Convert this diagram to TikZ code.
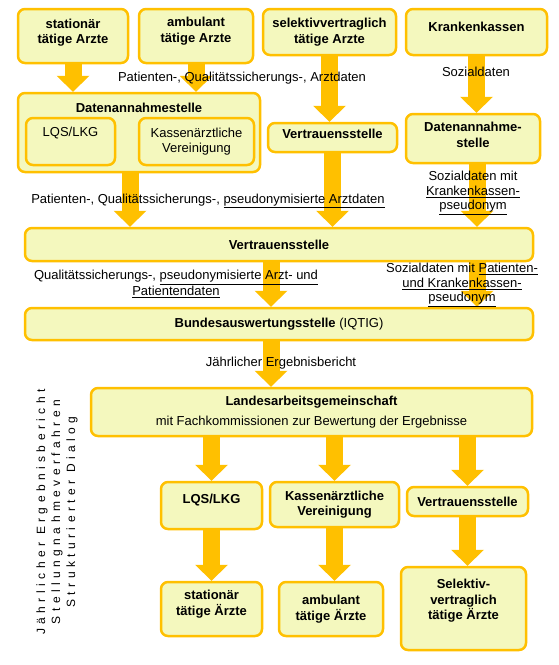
\documentclass[tikz,border=0pt]{standalone}
\usepackage{fontspec}
\setmainfont{Liberation Sans}
\newfontfamily\spacedfont[LetterSpace=37]{Liberation Sans}
\usetikzlibrary{arrows.meta,backgrounds}
\definecolor{boxfill}{RGB}{244,248,190}
\definecolor{gold}{RGB}{255,192,0}
\newcommand\nfont{\fontsize{13}{15.5}\selectfont}
\newcommand\bfont{\fontsize{13}{15.5}\selectfont\bfseries}
\tikzset{
  box/.style={draw=gold, fill=boxfill, line width=2.5pt, rounded corners=7pt,
    inner sep=0pt, align=center, font=\bfont},
  txt/.style={inner sep=0pt, align=center, font=\nfont},
  btxt/.style={inner sep=0pt, align=center, font=\bfont},
  flow/.style={draw=gold, line width=17pt,
    -{Triangle[width=33pt,length=16pt,line width=0pt]}},
}
\begin{document}
\begin{tikzpicture}[x=1pt,y=-1pt]
\useasboundingbox (0,0) rectangle (559,665);

% top row
\node[box, minimum width=110pt, minimum height=54pt] (stat1) at (73,36) {};
\node[btxt] (stat1T) at (73,32.5) {stationär\\tätige Arzte};
\node[box, minimum width=114pt, minimum height=54pt] (amb1) at (196,36) {};
\node[btxt] (amb1T) at (196,31) {ambulant\\tätige Arzte};
\node[box, minimum width=133pt, minimum height=46pt] (sel1) at (329.5,32) {selektivvertraglich\\tätige Arzte};
\node[box, minimum width=141pt, minimum height=46pt] (kk) at (476.5,32) {};
\node[btxt] (kkT) at (476.5,27) {Krankenkassen};

% second row
\node[box, minimum width=242pt, minimum height=79pt] (dan) at (139,132.5) {};
\node[btxt] (danT) at (139,108) {Datenannahmestelle};
\node[box, minimum width=89pt, minimum height=47pt] (lqs1) at (70.5,141.5) {};
\node[txt] (lqs1T) at (70.5,133) {LQS/LKG};
\node[box, font=\nfont, minimum width=115pt, minimum height=47pt] (kv1) at (196.5,141.5) {Kassenärztliche\\Vereinigung};
\node[box, minimum width=129pt, minimum height=29pt] (vsS) at (332.5,137.5) {};
\node[btxt] (vsST) at (332.5,134) {Vertrauensstelle};
\node[box, minimum width=134pt, minimum height=49pt] (das) at (473,138.5) {};
\node[btxt] (dasT) at (473,135) {Datenannahme-\\stelle};

% main rows
\node[box, minimum width=508pt, minimum height=33pt] (vs) at (279,244.5) {Vertrauensstelle};
\node[box, minimum width=508pt, minimum height=32pt] (bund) at (279,324) {Bundesauswertungsstelle {\mdseries (IQTIG)}};
\node[box, minimum width=441pt, minimum height=48pt] (lag) at (311.5,412) {Landesarbeitsgemeinschaft\\[4.5pt]{\mdseries mit Fachkommissionen zur Bewertung der Ergebnisse}};

% lower rows
\node[box, minimum width=101pt, minimum height=47pt] (lqs2) at (211.5,505.5) {};
\node[btxt] (lqs2T) at (211.5,500) {LQS/LKG};
\node[box, minimum width=129pt, minimum height=45pt] (kv2) at (334.5,504.5) {Kassenärztliche\\Vereinigung};
\node[box, minimum width=121pt, minimum height=29pt] (vs2) at (467.5,501.5) {Vertrauensstelle};
\node[box, minimum width=101pt, minimum height=54pt] (stat2) at (211.5,609) {};
\node[btxt] (stat2T) at (211.5,604) {stationär\\tätige Ärzte};
\node[box, minimum width=104pt, minimum height=54pt] (amb2) at (331,609) {ambulant\\tätige Ärzte};
\node[box, minimum width=125pt, minimum height=83pt] (sel2) at (463.5,608.5) {};
\node[btxt] (sel2T) at (463.5,601) {Selektiv-\\vertraglich\\tätige Ärzte};

% arrow columns
\coordinate (c1) at (130,0);
\coordinate (c2) at (271,0);
\coordinate (c3) at (477,0);

\begin{scope}[on background layer]
\fill[white] (0,0) rectangle (559,665);
\draw[flow] (stat1.south) -- (dan.north -| stat1.south);
\draw[flow] (amb1.south) -- (dan.north -| amb1.south);
\draw[flow] (sel1.south) -- (vsS.north -| sel1.south);
\draw[flow] (kk.south) -- (das.north -| kk.south);
\draw[flow] (dan.south -| c1) -- (vs.north -| c1);
\draw[flow] (vsS.south) -- (vs.north -| vsS.south);
\draw[flow] (das.south -| c3) -- (vs.north -| c3);
\draw[flow] (vs.south -| c2) -- (bund.north -| c2);
\draw[flow] (vs.south -| c3) -- (bund.north -| c3);
\draw[flow] (bund.south -| c2) -- (lag.north -| c2);
\draw[flow] (lag.south -| lqs2.north) -- (lqs2.north);
\draw[flow] (lag.south -| kv2.north) -- (kv2.north);
\draw[flow] (lag.south -| vs2.north) -- (vs2.north);
\draw[flow] (lqs2.south) -- (stat2.north -| lqs2.south);
\draw[flow] (kv2.south) -- (amb2.north -| kv2.south);
\draw[flow] (vs2.south) -- (sel2.north -| vs2.south);
\end{scope}

% labels
\node[txt] (l1) at (242,78) {Patienten-, Qualitätssicherungs-, Arztdaten};
\node[txt] (l2) at (476,72) {Sozialdaten};
\node[txt, font=\fontsize{13}{14.5}\selectfont] (l3) at (473,193) {Sozialdaten mit\\\underline{Krankenkassen-}\\\underline{pseudonym}};
\node[txt] (l4) at (208,201) {Patienten-, Qualitätssicherungs-, \underline{pseudonymisierte Arztdaten}};
\node[txt] (l5) at (176,284) {Qualitätssicherungs-, \underline{pseudonymisierte Arzt- und}\\\underline{Patientendaten}};
\node[txt, font=\fontsize{13}{14.5}\selectfont] (l6) at (462,285) {Sozialdaten mit \underline{Patienten-}\\\underline{und Krankenkassen-}\\\underline{pseudonym}};
\node[txt] (l7) at (281,363) {Jährlicher Ergebnisbericht};

% rotated side text
\node[rotate=90, inner sep=0pt, align=center, font=\spacedfont\fontsize{12}{15}\selectfont] (side) at (57,512)
  {Jährlicher Ergebnisbericht\\Stellungnahmeverfahren\\Strukturierter Dialog};
\end{tikzpicture}
\end{document}
